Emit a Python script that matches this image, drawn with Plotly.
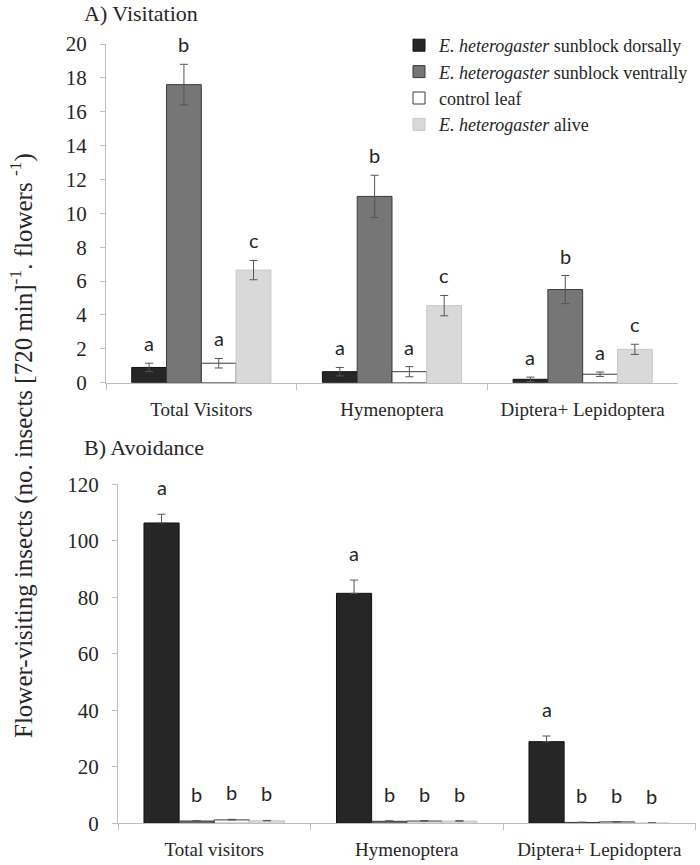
import plotly.graph_objects as go

# ---------------- data ----------------
cats_top = ["Total Visitors", "Hymenoptera", "Diptera+ Lepidoptera"]
cats_bottom = ["Total visitors", "Hymenoptera", "Diptera+ Lepidoptera"]

series_names = [
    "<i>E. heterogaster</i> sunblock dorsally",
    "<i>E. heterogaster</i> sunblock ventrally",
    "control leaf",
    "<i>E. heterogaster</i> alive",
]

# A) Visitation
visit_dorsal = [0.9, 0.65, 0.2]
visit_dorsal_err = [0.25, 0.25, 0.13]
visit_ventral = [17.6, 11.0, 5.5]
visit_ventral_err = [1.2, 1.25, 0.83]
visit_control = [1.15, 0.65, 0.5]
visit_control_err = [0.28, 0.3, 0.13]
visit_alive = [6.65, 4.55, 1.97]
visit_alive_err = [0.57, 0.6, 0.3]
visit_letters = [["a", "a", "a"], ["b", "b", "b"], ["a", "a", "a"], ["c", "c", "c"]]

# B) Avoidance
avoid_dorsal = [106.3, 81.4, 28.9]
avoid_dorsal_err = [3.1, 4.7, 2.0]
avoid_ventral = [0.8, 0.7, 0.3]
avoid_ventral_err = [0.1, 0.2, 0.1]
avoid_control = [1.2, 0.8, 0.5]
avoid_control_err = [0.2, 0.15, 0.1]
avoid_alive = [0.9, 0.8, 0.1]
avoid_alive_err = [0.1, 0.1, 0.05]
avoid_letters = [["a", "a", "a"], ["b", "b", "b"], ["b", "b", "b"], ["b", "b", "b"]]

# ---------------- style ----------------
fills = ["#262626", "#767676", "#ffffff", "#d9d9d9"]
outlines = ["#111111", "#3a3a3a", "#3a3a3a", "#c8c8c8"]
SERIF = "Liberation Serif, Times New Roman, serif"
SANS = "Lato, Open Sans, sans-serif"
TXT = "#262626"
AX = "#bfbfbf"
BARGAP = 0.27

top_vals = [visit_dorsal, visit_ventral, visit_control, visit_alive]
top_errs = [visit_dorsal_err, visit_ventral_err, visit_control_err, visit_alive_err]
bot_vals = [avoid_dorsal, avoid_ventral, avoid_control, avoid_alive]
bot_errs = [avoid_dorsal_err, avoid_ventral_err, avoid_control_err, avoid_alive_err]

fig = go.Figure()

for i in range(4):
    fig.add_trace(go.Bar(
        x=cats_top, y=top_vals[i], name=series_names[i],
        legendgroup=f"g{i}", showlegend=True,
        marker=dict(color=fills[i], line=dict(color=outlines[i], width=1)),
        error_y=dict(type="data", array=top_errs[i], color="#555555", thickness=1, width=4),
        xaxis="x", yaxis="y",
    ))
for i in range(4):
    fig.add_trace(go.Bar(
        x=cats_bottom, y=bot_vals[i], name=series_names[i],
        legendgroup=f"g{i}", showlegend=False,
        marker=dict(color=fills[i], line=dict(color=outlines[i], width=1)),
        error_y=dict(type="data", symmetric=False, array=bot_errs[i],
                     arrayminus=[0, 0, 0], color="#555555", thickness=1, width=4),
        xaxis="x2", yaxis="y2",
    ))

# significance letters
barw = (1 - BARGAP) / 4
annotations = []
for i in range(4):
    off = (i - 1.5) * barw
    for j in range(3):
        annotations.append(dict(
            x=j + off, y=top_vals[i][j] + top_errs[i][j], xref="x", yref="y",
            text=visit_letters[i][j], showarrow=False, yanchor="bottom", yshift=6,
            font=dict(family=SANS, size=20, color=TXT)))
        annotations.append(dict(
            x=j + off, y=bot_vals[i][j] + bot_errs[i][j], xref="x2", yref="y2",
            text=avoid_letters[i][j], showarrow=False, yanchor="bottom", yshift=13,
            font=dict(family=SANS, size=20, color=TXT)))

annotations += [
    dict(x=82 / 700, y=1 - 14 / 865, xref="paper", yref="paper", xanchor="left",
         yanchor="middle", text="A) Visitation", showarrow=False,
         font=dict(family=SERIF, size=22, color=TXT)),
    dict(x=82 / 700, y=1 - 447 / 865, xref="paper", yref="paper", xanchor="left",
         yanchor="middle", text="B) Avoidance", showarrow=False,
         font=dict(family=SERIF, size=22, color=TXT)),
    dict(x=22 / 700, y=1 - 446 / 865, xref="paper", yref="paper", xanchor="center",
         yanchor="middle", textangle=-90, showarrow=False,
         text="Flower-visiting insects (no. insects [720 min]<sup>-1</sup>. flowers <sup>-1</sup>)",
         font=dict(family=SERIF, size=25, color=TXT)),
]

xcommon = dict(type="category", range=[-0.5, 2.5], showline=True, linecolor=AX, linewidth=1,
               ticks="outside", tickson="boundaries", ticklen=6, tickcolor=AX,
               showgrid=False, zeroline=False, ticklabelstandoff=9, automargin=False,
               tickfont=dict(family=SERIF, size=19, color=TXT))
ycommon = dict(showline=True, linecolor=AX, linewidth=1, ticks="outside", ticklen=5,
               tickcolor=AX, showgrid=False, zeroline=False, ticklabelstandoff=9,
               automargin=False,
               tickfont=dict(family=SERIF, size=21, color=TXT))

fig.update_layout(
    width=700, height=865,
    margin=dict(l=0, r=0, t=0, b=0, autoexpand=False),
    paper_bgcolor="white", plot_bgcolor="white",
    barmode="group", bargap=BARGAP, bargroupgap=0,
    xaxis=dict(domain=[106 / 700, 678 / 700], anchor="y", **xcommon),
    yaxis=dict(domain=[1 - 382.7 / 865, 1 - 44 / 865], anchor="x", range=[0, 20], dtick=2, **ycommon),
    xaxis2=dict(domain=[118 / 700, 695.5 / 700], anchor="y2", **xcommon),
    yaxis2=dict(domain=[1 - 823.3 / 865, 1 - 484.3 / 865], anchor="x2", range=[0, 120], dtick=20, **ycommon),
    legend=dict(x=399 / 700, y=1 - 27 / 865, xanchor="left", yanchor="top",
                traceorder="grouped", tracegroupgap=0, bgcolor="rgba(0,0,0,0)",
                font=dict(family=SERIF, size=18, color=TXT)),
    annotations=annotations,
    showlegend=True,
)

fig.write_html(
    "out.html",
    config={"displayModeBar": False},
    post_script="document.body.style.margin='0';document.body.style.overflow='hidden';",
)
